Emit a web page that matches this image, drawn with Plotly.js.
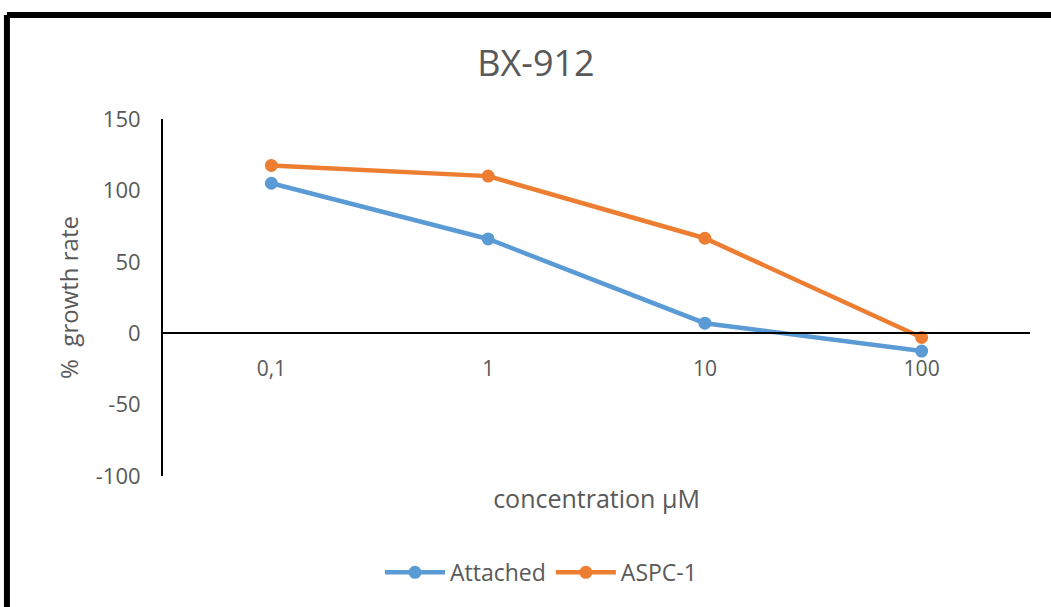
<!DOCTYPE html>
<html>
<head>
<meta charset="utf-8">
<script src="https://cdn.plot.ly/plotly-3.0.1.min.js"></script>
<style>html,body{margin:0;padding:0;background:#fff;}#chart{width:1051px;height:607px;}</style>
</head>
<body>
<div id="chart"></div>
<script>
const categories = ["0,1", "1", "10", "100"];
const attached = [105, 66, 7, -12.5];
const aspc1 = [117.5, 110, 66.5, -3];
const seriesNames = ["Attached", "ASPC-1"];
const yTicks = [150, 100, 50, 0, -50, -100];
const yTickLabels = ["150", "100", "50", "0", "-50", "-100"];

const font = "Open Sans, Noto Sans, sans-serif";
const gray = "#595959";

const traces = [
  {x: categories, y: attached, name: seriesNames[0], type: "scatter", mode: "lines+markers",
   line: {color: "#5B9BD5", width: 4.5}, marker: {color: "#5B9BD5", size: 13}},
  {x: categories, y: aspc1, name: seriesNames[1], type: "scatter", mode: "lines+markers",
   line: {color: "#ED7D31", width: 4.5}, marker: {color: "#ED7D31", size: 13}}
];

const layout = {
  width: 1051, height: 607,
  paper_bgcolor: "#fff", plot_bgcolor: "#fff",
  margin: {l: 163, r: 21, t: 119, b: 131},
  showlegend: true,
  title: {text: "BX-912", font: {family: font, size: 36, color: gray}, x: 0.51, xanchor: "center", y: 0.895, yanchor: "middle"},
  xaxis: {
    type: "category", range: [-0.5, 3.5],
    anchor: "free", position: 0.4,
    showline: true, linecolor: "#000", linewidth: 2,
    showgrid: false, zeroline: false,
    ticks: "outside", ticklen: 17, tickcolor: "rgba(0,0,0,0)",
    tickfont: {family: font, size: 21, color: gray},
    title: {text: "concentration μM", font: {family: font, size: 25, color: gray}, standoff: 108}
  },
  yaxis: {
    range: [-100, 150], tickvals: yTicks, ticktext: yTickLabels,
    showline: true, linecolor: "#000", linewidth: 2,
    showgrid: false, zeroline: false,
    ticks: "outside", ticklen: 16, tickcolor: "rgba(0,0,0,0)",
    tickfont: {family: font, size: 22, color: gray},
    title: {text: "%  growth rate", font: {family: font, size: 24, color: gray}, standoff: 10}
  },
  legend: {orientation: "h", x: 0.436, xanchor: "center", y: -0.27, yanchor: "middle",
           font: {family: font, size: 23, color: gray}, itemwidth: 60},
  shapes: [
    {type: "line", xref: "paper", yref: "paper", x0: -0.18, x1: 1.1, y0: 1.291, y1: 1.291, line: {color: "#000", width: 6}},
    {type: "line", xref: "paper", yref: "paper", x0: -0.18, x1: -0.18, y0: 1.291, y1: -0.5, line: {color: "#000", width: 6}}
  ]
};

Plotly.newPlot("chart", traces, layout, {displayModeBar: false, staticPlot: true});
</script>
</body>
</html>
